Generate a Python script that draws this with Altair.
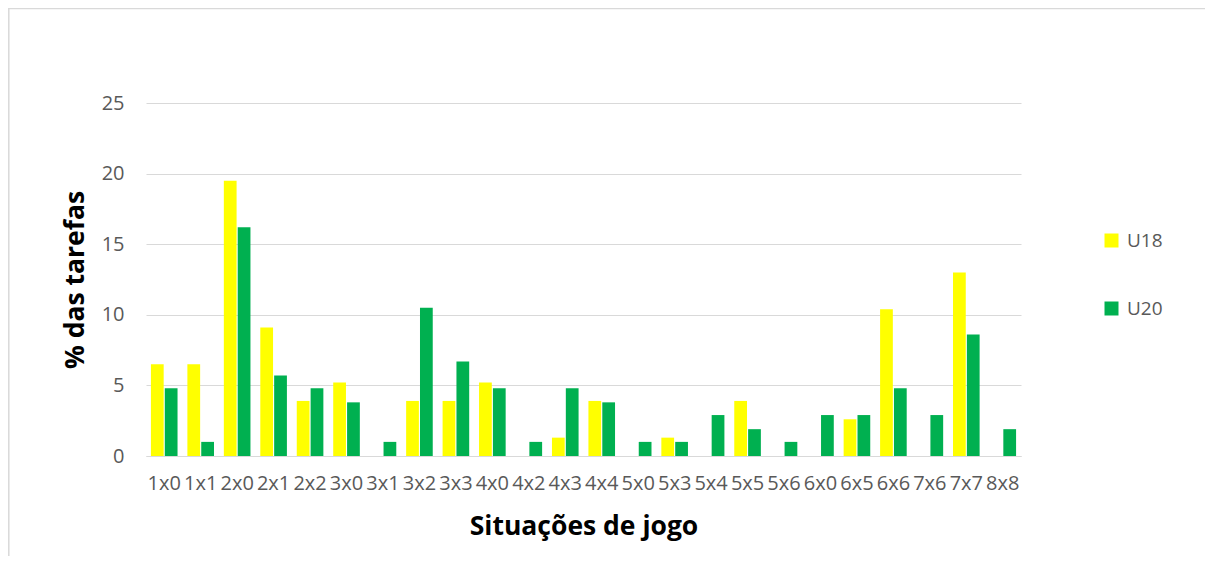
import altair as alt
import pandas as pd

categories = ["1x0", "1x1", "2x0", "2x1", "2x2", "3x0", "3x1", "3x2", "3x3", "4x0", "4x2", "4x3",
              "4x4", "5x0", "5x3", "5x4", "5x5", "5x6", "6x0", "6x5", "6x6", "7x6", "7x7", "8x8"]
u18 = [6.5, 6.5, 19.5, 9.1, 3.9, 5.2, 0, 3.9, 3.9, 5.2, 0, 1.3,
       3.9, 0, 1.3, 0, 3.9, 0, 0, 2.6, 10.4, 0, 13.0, 0]
u20 = [4.8, 1.0, 16.2, 5.7, 4.8, 3.8, 1.0, 10.5, 6.7, 4.8, 1.0, 4.8,
       3.8, 1.0, 1.0, 2.9, 1.9, 1.0, 2.9, 2.9, 4.8, 2.9, 8.6, 1.9]
series = ["U18", "U20"]
colors = ["#FFFF00", "#00B050"]
y_ticks = [0, 5, 10, 15, 20, 25]

rows = []
for c, a, b in zip(categories, u18, u20):
    rows.append({"cat": c, "serie": "U18", "val": a})
    rows.append({"cat": c, "serie": "U20", "val": b})
df = pd.DataFrame(rows)

FONT = "Open Sans"

bars = alt.Chart(df).mark_bar().encode(
    x=alt.X("cat:N", sort=categories,
            scale=alt.Scale(paddingInner=0.27, paddingOuter=0.135),
            axis=alt.Axis(title="Situações de jogo", labelAngle=0, labelOverlap=False,
                          labelFont=FONT, labelFontSize=20, labelColor="#595959",
                          labelPadding=17, ticks=False, domainColor="#D9D9D9", domainWidth=1,
                          titleFont=FONT, titleFontSize=26.5, titleFontWeight="bold",
                          titleColor="#000000", titlePadding=20, grid=False)),
    xOffset=alt.XOffset("serie:N", sort=series, scale=alt.Scale(paddingInner=0.08)),
    y=alt.Y("val:Q", scale=alt.Scale(domain=[0, 25], nice=False),
            axis=alt.Axis(title="% das tarefas", values=y_ticks, domain=False, ticks=False,
                          labelFont=FONT, labelFontSize=20, labelColor="#595959",
                          labelPadding=22, gridColor="#D9D9D9", gridWidth=1,
                          titleFont=FONT, titleFontSize=26.5, titleFontWeight="bold",
                          titleColor="#000000", titlePadding=12)),
    color=alt.Color("serie:N", scale=alt.Scale(domain=series, range=colors),
                    legend=alt.Legend(title=None, orient="none", legendX=956, legendY=128,
                                      symbolType="square", symbolSize=196, symbolStrokeWidth=0,
                                      labelFont=FONT, labelFontSize=19, labelColor="#595959",
                                      rowPadding=48, labelOffset=6)),
)

frame = alt.Data(values=[{"k": 1}])
top_rule = alt.Chart(frame).mark_rule(color="#D9D9D9", strokeWidth=1.5).encode(
    x=alt.value(-138), x2=alt.value(1059), y=alt.value(-94.5))
left_rule = alt.Chart(frame).mark_rule(color="#D9D9D9", strokeWidth=1.5).encode(
    x=alt.value(-137.2), y=alt.value(-95), y2=alt.value(453))

chart = alt.layer(bars, top_rule, left_rule).properties(
    width=875, height=353,
    background="white",
    autosize=alt.AutoSizeParams(type="none"),
    padding={"left": 138, "top": 95, "right": 184, "bottom": 100},
).configure_view(strokeWidth=0, stroke="transparent")

chart.save("out.html", embed_options={"renderer": "svg", "actions": False})
